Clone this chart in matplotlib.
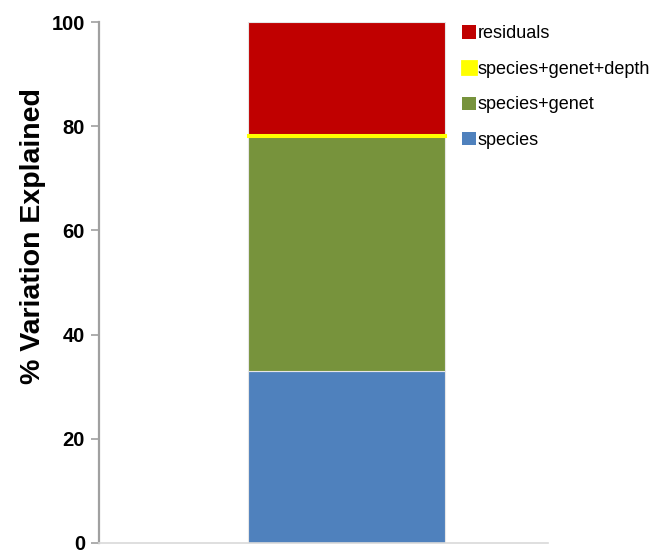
"""Stacked bar of variance partitioning."""

import matplotlib

matplotlib.use("Agg")
import matplotlib.pyplot as plt
from matplotlib.patches import Patch

# data
components = ["species", "species+genet", "species+genet+depth", "residuals"]
percent = [33.1, 45.0, 0.2, 21.7]
colours = ["#4f81bd", "#77933c", "#ffff00", "#c00000"]

plt.rcParams["font.family"] = ["Liberation Sans", "DejaVu Sans"]

fig = plt.figure(figsize=(6.54, 5.54), dpi=100)
ax = fig.add_axes([99 / 654, 11 / 554, (548 - 99) / 654, (543 - 22) / 554])

bottom = 0.0
for name, val, col in zip(components, percent, colours):
    if name == "species+genet+depth":
        ax.bar(0, val, bottom=bottom, width=0.44, color=col,
               edgecolor=col, linewidth=2.2, zorder=3)
    else:
        ax.bar(0, val, bottom=bottom, width=0.44, color=col,
               edgecolor="#e6e6e6", linewidth=0.8, zorder=2)
    bottom += val

ax.set_xlim(-0.551, 0.449)
ax.set_ylim(0, 100)
ax.set_yticks([0, 20, 40, 60, 80, 100])
ax.set_xticks([])
ax.set_ylabel("% Variation Explained", fontsize=20.5, fontweight="bold")
ax.yaxis.set_label_coords(-0.118, 0.59)
for lab in ax.get_yticklabels():
    lab.set_fontweight("bold")
    lab.set_fontsize(14.5)

for side in ("top", "right"):
    ax.spines[side].set_visible(False)
ax.spines["left"].set_color("#a0a0a0")
ax.spines["left"].set_linewidth(1.6)
ax.spines["bottom"].set_color("#d9d9d9")
ax.spines["bottom"].set_linewidth(1.2)
ax.tick_params(axis="y", direction="out", length=6, color="#a0a0a0", width=1.2, pad=4)

handles = []
for name, col in zip(components[::-1], colours[::-1]):
    if name == "species+genet+depth":
        handles.append(Patch(facecolor=col, edgecolor=col, linewidth=2, label=name))
    else:
        handles.append(Patch(facecolor=col, edgecolor="none", label=name))
fig.legend(handles=handles, loc="upper left", bbox_to_anchor=(455 / 654, 1 - 18 / 554),
           frameon=False, fontsize=13, handlelength=0.75, handleheight=0.75,
           handletextpad=0.1, labelspacing=1.03, borderaxespad=0)

fig.savefig("out.png", dpi=100)
